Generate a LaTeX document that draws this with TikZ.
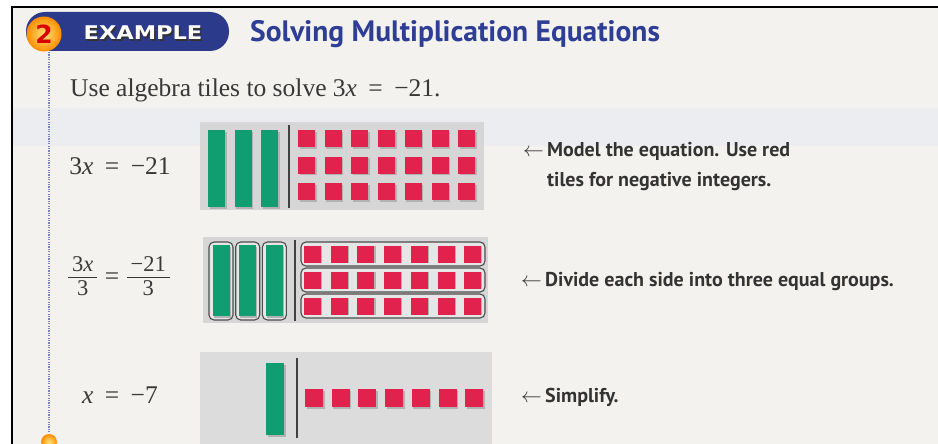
\documentclass[tikz,border=0pt]{standalone}
\usepackage{fontspec}
\setmainfont{Liberation Serif}
\newfontfamily\headfont{PT Sans}
\newfontfamily\badgefont{DejaVu Sans}

\definecolor{pagebg}{HTML}{F3F2EF}
\definecolor{bandbg}{HTML}{ECEDF0}
\definecolor{panelgray}{HTML}{D6D6D6}
\definecolor{panellight}{HTML}{DCDCDC}
\definecolor{tilegreen}{HTML}{109E70}
\definecolor{tilered}{HTML}{E0224C}
\definecolor{pillblue}{HTML}{2C3A8C}
\definecolor{titleblue}{HTML}{2F3E95}
\definecolor{textgray}{HTML}{383838}
\definecolor{captiongray}{HTML}{333333}
\definecolor{dotblue}{HTML}{7A80B8}
\definecolor{ballyellow}{HTML}{FFD21E}

\newcommand{\stackfrac}[2]{{\fontsize{22.5}{24}\selectfont\setlength\arrayrulewidth{0.8pt}%
  \begin{tabular}[c]{@{\,}c@{\,}}#1\\[-2pt]\hline\rule{0pt}{18pt}#2\end{tabular}}}

\begin{document}
\begin{tikzpicture}[x=1pt,y=-1pt,
  tileshadow/.style={fill=black!30},
  greentile/.style={fill=tilegreen},
  redtile/.style={fill=tilered},
  divider/.style={draw=black!75,line width=1.3pt},
  groupring/.style={draw=black!70,line width=1.1pt,rounded corners=5pt},
  eqtext/.style={font=\fontsize{25.5}{30}\selectfont,text=textgray,inner sep=0pt},
  captext/.style={font=\headfont\bfseries\fontsize{20}{30}\selectfont,text=captiongray,align=left,inner sep=0pt,anchor=west}]
\useasboundingbox (0,0) rectangle (938,444);
\fill[white] (0,0) rectangle (938,444);
\fill[pagebg] (12,7) rectangle (938,444);
\fill[bandbg] (12,108) rectangle (938,146);
\draw[line width=2pt] (12,444) -- (12,7) -- (938,7);

% header
\fill[pillblue, rounded corners=19pt] (26,12) rectangle (229,51);
\shade[inner color=ballyellow!60!white, outer color=orange!90!yellow] (44,34) circle (17.5pt);
\node (num) at (44,34) {\badgefont\bfseries\fontsize{25}{25}\selectfont\color{red!85!black}2};
\node[text=black!80] at (144.5,34.5) {\scalebox{1.25}[1.05]{\badgefont\bfseries\fontsize{18}{18}\selectfont EXAMPLE}};
\node[text=white] (badge) at (143,33) {\scalebox{1.25}[1.05]{\badgefont\bfseries\fontsize{18}{18}\selectfont EXAMPLE}};
\node[anchor=west, inner sep=0pt, text=titleblue] (title) at (250,34) {\headfont\bfseries\fontsize{29.5}{32}\selectfont Solving Multiplication Equations};

\draw[dotblue, line width=1.6pt, dash pattern=on 1.2pt off 1.2pt] (49,52) -- (49,437);
\shade[inner color=ballyellow!60!white, outer color=orange!90!yellow] (49,442) circle (8pt);

\node[eqtext, anchor=base west] (task) at (70,96) {Use algebra tiles to solve 3\textit{x}\hspace{0.45em}=\hspace{0.45em}−21.};

% row 1
\node[eqtext] (eqa) at (120,166) {3\textit{x}\hspace{0.45em}=\hspace{0.45em}−21};
\fill[panelgray] (200,122) rectangle (484,210);
\foreach \i in {0,1,2} {
  \fill[tileshadow] (209.5+26.7*\i,131.5) rectangle ++(17,77);
  \fill[greentile] (208+26.7*\i,130) rectangle ++(17,77);
}
\draw[divider] (289,125) -- (289,208);
\foreach \k in {0,1,2} {
  \foreach \j in {0,...,6} {
    \fill[tileshadow] (299.5+26.7*\j,131.5+26.5*\k) rectangle ++(17,17);
    \fill[redtile] (298+26.7*\j,130+26.5*\k) rectangle ++(17,17);
  }
}
\node[captext] (capa) at (547,167) {\llap{$\leftarrow$\,}Model the equation. Use red\\tiles for negative integers.};

% row 2
\node[eqtext] (eqb) at (119,279) {\stackfrac{3\textit{x}}{3}\hspace{0.3em}=\hspace{0.3em}\stackfrac{−21}{3}};
\fill[panelgray] (203,237) rectangle (488,323);
\foreach \i in {0,1,2} {
  \draw[groupring, fill=panelgray!60] (209+26.7*\i,242) rectangle ++(24,78);
  \fill[tileshadow] (213.5+26.7*\i,246.5) rectangle ++(17,71);
  \fill[greentile] (212.5+26.7*\i,245) rectangle ++(17,71);
}
\draw[divider] (295,240) -- (295,321);
\foreach \k in {0,1,2} {
  \draw[groupring, fill=panelgray!60] (301,242+26*\k) rectangle ++(184,24);
  \foreach \j in {0,...,6} {
    \fill[tileshadow] (305.2+26.7*\j,246.2+26*\k) rectangle ++(17,17);
    \fill[redtile] (304+26.7*\j,245.5+26*\k) rectangle ++(17,17);
  }
}
\node[captext] (capb) at (545,282) {\llap{$\leftarrow$\,}Divide each side into three equal groups.};

% row 3
\node[eqtext] (eqc) at (120,395) {\textit{x}\hspace{0.45em}=\hspace{0.45em}−7};
\fill[panellight] (200,352) rectangle (492,444);
\fill[tileshadow] (267.5,364.5) rectangle ++(18,72);
\fill[greentile] (266,363) rectangle ++(18,72);
\draw[divider] (297,358) -- (297,438);
\foreach \j in {0,...,6} {
  \fill[tileshadow] (306.5+26.7*\j,390.5) rectangle ++(18,18);
  \fill[redtile] (305+26.7*\j,389) rectangle ++(18,18);
}
\node[captext] (capc) at (545,397) {\llap{$\leftarrow$\,}Simplify.};
\end{tikzpicture}
\end{document}
